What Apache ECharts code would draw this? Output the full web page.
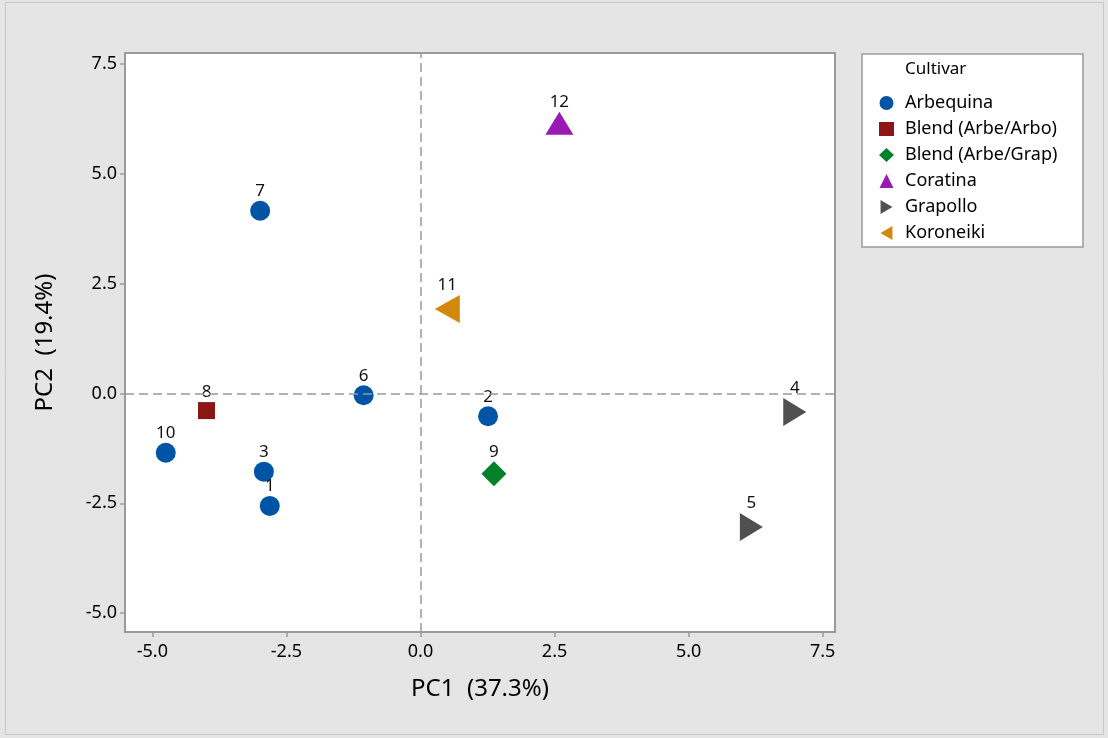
<!DOCTYPE html>
<html>
<head>
<meta charset="utf-8">
<script src="https://cdn.jsdelivr.net/npm/echarts@6/dist/echarts.min.js"></script>
<style>
html,body{margin:0;padding:0;background:#e5e5e5;}
#chart{width:1108px;height:738px;}
</style>
</head>
<body>
<div id="chart"></div>
<script>
// ---- data ----
const sampleIds = ['1','2','3','4','5','6','7','8','9','10','11','12'];
const pc1 = [-2.81, 1.26, -2.92, 6.98, 6.17, -1.06, -2.99, -3.99, 1.37, -4.75, 0.50, 2.59];
const pc2 = [-2.56, -0.52, -1.78, -0.42, -3.04, -0.04, 4.16, -0.39, -1.83, -1.35, 1.92, 6.15];
const sampleCultivar = ['Arbequina','Arbequina','Arbequina','Grapollo','Grapollo','Arbequina','Arbequina',
  'Blend (Arbe/Arbo)','Blend (Arbe/Grap)','Arbequina','Koroneiki','Coratina'];
const cultivars = ['Arbequina','Blend (Arbe/Arbo)','Blend (Arbe/Grap)','Coratina','Grapollo','Koroneiki'];
const tickValues = [-5, -2.5, 0, 2.5, 5, 7.5];
const xTitle = 'PC1  (37.3%)';
const yTitle = 'PC2  (19.4%)';
const legendTitle = 'Cultivar';

// ---- styles ----
const colors = {
  'Arbequina':'#0054a6',
  'Blend (Arbe/Arbo)':'#8c1515',
  'Blend (Arbe/Grap)':'#00822a',
  'Coratina':'#9a1ab4',
  'Grapollo':'#505050',
  'Koroneiki':'#d4880a'
};
const symbols = {
  'Arbequina':['circle',20],
  'Blend (Arbe/Arbo)':['rect',17],
  'Blend (Arbe/Grap)':['diamond',[25,25]],
  'Coratina':['path://M0.5,0L1,1L0,1Z',[28,23]],
  'Grapollo':['path://M0,0L1,0.5L0,1Z',[23,28]],
  'Koroneiki':['path://M1,0L0,0.5L1,1Z',[25,28]]
};
const legendIcons = {
  'Arbequina':'circle',
  'Blend (Arbe/Arbo)':'rect',
  'Blend (Arbe/Grap)':'diamond',
  'Coratina':'path://M0.5,0L1,1L0,1Z',
  'Grapollo':'path://M0.15,0L1,0.5L0.15,1Z',
  'Koroneiki':'path://M0.85,0L0,0.5L0.85,1Z'
};
const FONT = '"Noto Sans", "Open Sans", sans-serif';

const series = cultivars.map((c, ci) => {
  const data = [];
  sampleIds.forEach((id, i) => {
    if (sampleCultivar[i] === c) data.push({value:[pc1[i], pc2[i]], name:id});
  });
  const s = {
    name:c, type:'scatter', data:data,
    symbol:symbols[c][0], symbolSize:symbols[c][1],
    itemStyle:{color:colors[c], opacity:1},
    label:{show:true, position:'top', distance:1, formatter:p=>p.name,
      color:'#111', fontSize:17, fontFamily:FONT},
    z:3
  };
  if (ci === 0) {
    s.markLine = {
      silent:true, symbol:'none', label:{show:false},
      lineStyle:{color:'#999', type:[9,5], width:1.5},
      data:[{xAxis:0},{yAxis:0}]
    };
  }
  return s;
});

const axisCommon = {
  type:'value',
  axisLine:{show:true, onZero:false, lineStyle:{color:'#9a9a9a', width:2}},
  axisTick:{show:true, customValues:tickValues, length:5, lineStyle:{color:'#9a9a9a', width:1.5}},
  axisLabel:{customValues:tickValues, formatter:v=>v.toFixed(1), color:'#000', fontSize:18, fontFamily:FONT},
  splitLine:{show:false},
  nameLocation:'middle',
  nameTextStyle:{color:'#000', fontSize:24, fontFamily:FONT}
};

const chart = echarts.init(document.getElementById('chart'), null, {renderer:'canvas'});
chart.setOption({
  backgroundColor:'#e5e5e5',
  animation:false,
  grid:{left:125, top:53, right:273, bottom:106, show:true, backgroundColor:'#fff',
    borderColor:'#9a9a9a', borderWidth:2, containLabel:false},
  xAxis:Object.assign({}, axisCommon, {min:-5.51, max:7.73, name:xTitle, nameGap:45,
    axisLabel:Object.assign({}, axisCommon.axisLabel, {margin:11})}),
  yAxis:Object.assign({}, axisCommon, {min:-5.43, max:7.75, name:yTitle, nameGap:68,
    axisLabel:Object.assign({}, axisCommon.axisLabel, {margin:8})}),
  legend:{
    orient:'vertical', left:874, top:89, itemGap:8, itemWidth:15, itemHeight:14,
    data:cultivars.map(c=>({name:c, icon:legendIcons[c]})),
    textStyle:{color:'#000', fontSize:18, fontFamily:FONT, padding:[0,0,0,6]},
    selectedMode:false
  },
  graphic:[
    {type:'rect', z:-10, shape:{x:5.5, y:2.5, width:1098, height:732}, style:{fill:'none', stroke:'#c8c8c8', lineWidth:1}},
    {type:'rect', z:-5, shape:{x:862, y:54, width:221, height:193}, style:{fill:'#fff', stroke:'#9a9a9a', lineWidth:1.5}},
    {type:'text', z:10, left:905, top:61, style:{text:legendTitle, fill:'#000', fontSize:17, fontFamily:FONT}}
  ],
  series:series
});
</script>
</body>
</html>
